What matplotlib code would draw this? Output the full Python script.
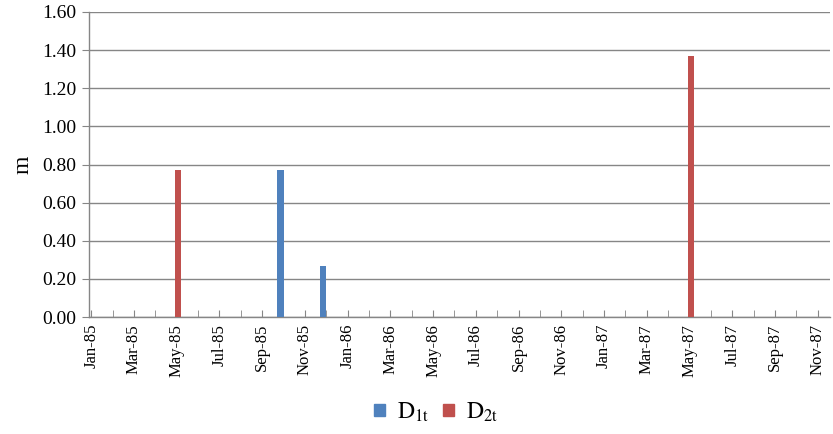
"""Monthly D1t / D2t bar chart, Jan-85 to Nov-87."""

import matplotlib

matplotlib.use("Agg")

import matplotlib.pyplot as plt
import numpy as np
import pandas as pd
from matplotlib.patches import Patch

# data
months = pd.date_range("1985-01-01", "1987-11-01", freq="MS")
month_labels = [m.strftime("%b-%y") for m in months]
d1t_months = ["1985-10-01", "1985-12-01"]
d1t_values = [0.77, 0.27]
d2t_months = ["1985-05-01", "1987-05-01"]
d2t_values = [0.77, 1.37]
y_ticks = [0.0, 0.2, 0.4, 0.6, 0.8, 1.0, 1.2, 1.4, 1.6]

BLUE = "#4f81bd"
RED = "#c0504d"
GRID = "#868686"

plt.rcParams["font.family"] = ["Liberation Serif", "DejaVu Serif"]
plt.rcParams["mathtext.fontset"] = "stix"


def month_index(dates: list[str]) -> np.ndarray:
    return np.array([months.get_loc(pd.Timestamp(d)) for d in dates], dtype=float)


fig = plt.figure(figsize=(8.33, 4.34), dpi=100)
ax = fig.add_axes([89 / 833, 1 - 317 / 434, (830 - 89) / 833, (317 - 12) / 434])

# excel-style clustered columns on a monthly date axis
bar_width = 0.29
ax.bar(month_index(d1t_months) - 0.14, d1t_values, width=bar_width, color=BLUE, zorder=3)
ax.bar(month_index(d2t_months) + 0.08, d2t_values, width=bar_width, color=RED, zorder=3)

ax.set_xlim(-0.1, 34.57)
ax.set_ylim(0, 1.6)
ax.set_yticks(y_ticks)
ax.set_yticklabels([f"{v:.2f}" for v in y_ticks])

ax.set_xticks(np.arange(len(months))[::2])
ax.set_xticklabels(month_labels[::2], rotation=90, ha="center", va="top")
ax.set_xticks(np.arange(len(months)), minor=True)

ax.grid(True, axis="y", color=GRID, linewidth=1.0, zorder=0)
for side in ("top", "right"):
    ax.spines[side].set_visible(False)
for side in ("left", "bottom"):
    ax.spines[side].set_color(GRID)
    ax.spines[side].set_linewidth(1.0)

ax.tick_params(axis="y", which="major", length=5, color=GRID, labelsize=14, pad=4)
ax.tick_params(axis="x", which="both", direction="in", length=5, color=GRID,
               labelsize=12, pad=5)

ax.set_ylabel("m", fontsize=17, labelpad=6)

handles = [Patch(color=BLUE), Patch(color=RED)]
fig.legend(
    handles,
    [r"$\mathrm{D_{1t}}$", r"$\mathrm{D_{2t}}$"],
    loc="center",
    bbox_to_anchor=(436 / 833, 1 - 412 / 434),
    ncol=2,
    frameon=False,
    fontsize=17,
    handlelength=0.45,
    handleheight=0.45,
    handletextpad=0.5,
    columnspacing=0.6,
)

fig.savefig("out.png", dpi=100)
